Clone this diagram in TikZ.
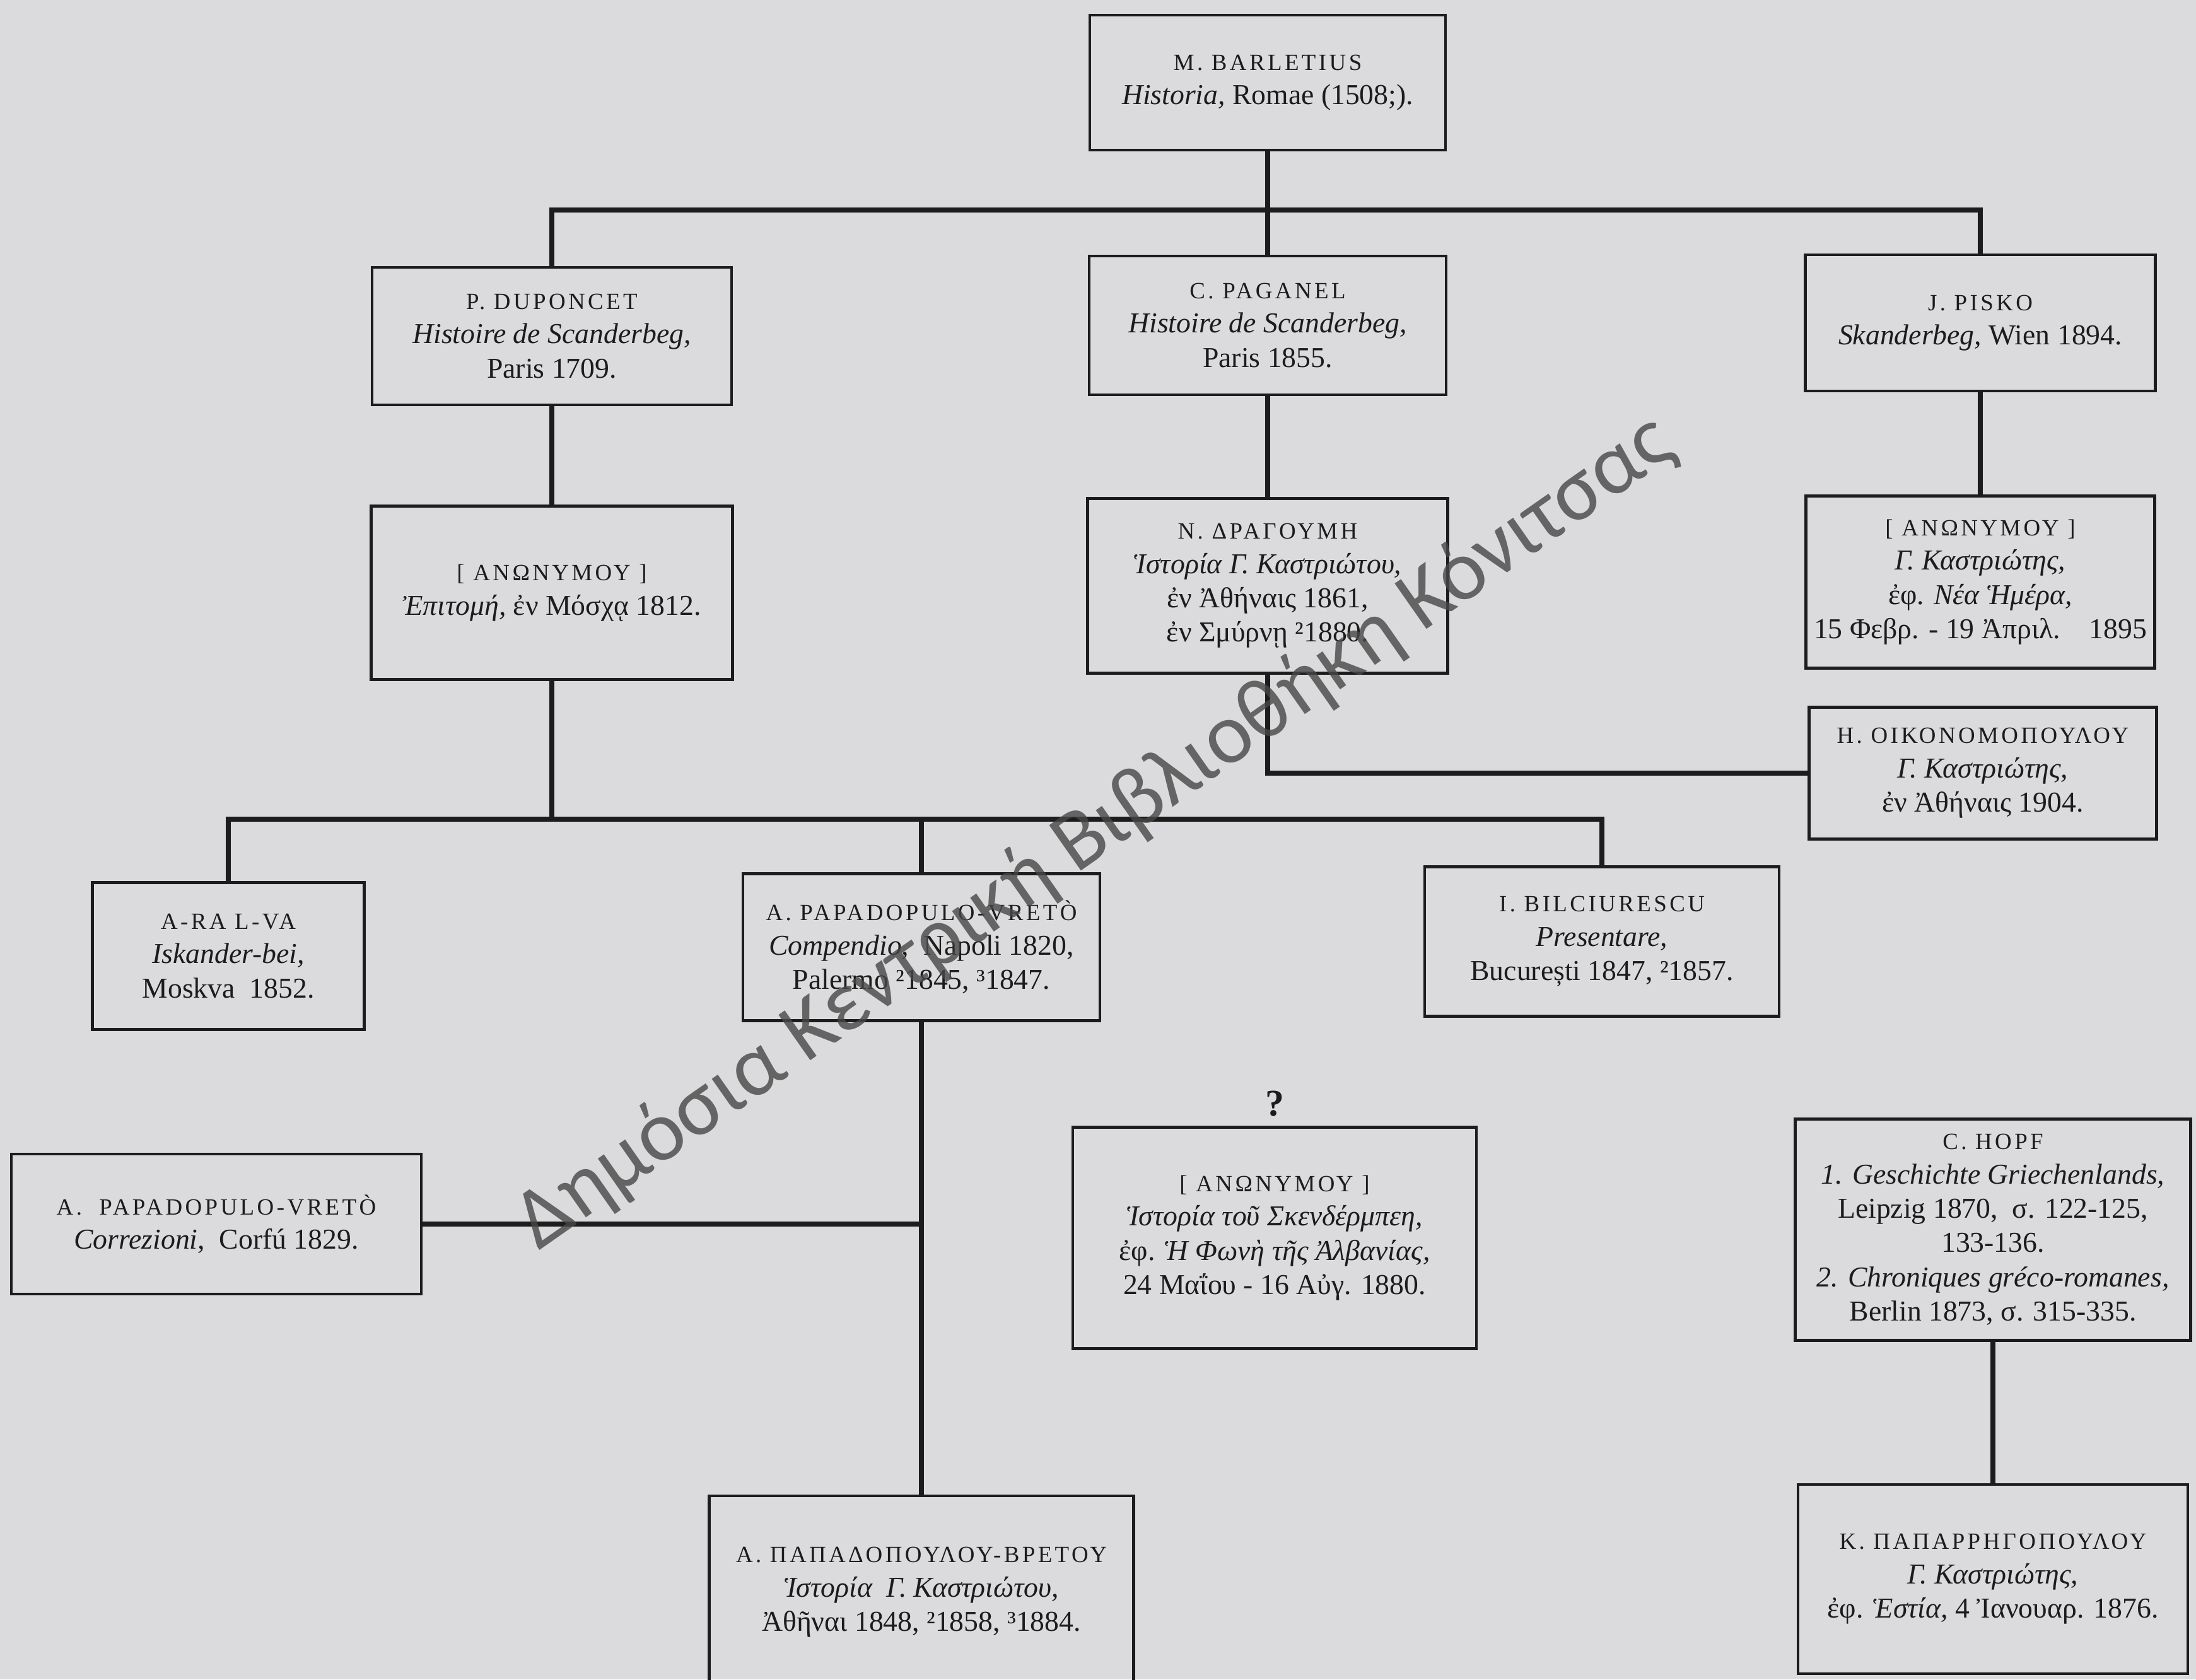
\documentclass[tikz,border=0pt]{standalone}
\usepackage{fontspec}
\setmainfont{Liberation Serif}
\newfontfamily\namefont[LetterSpace=12]{Liberation Serif}
\newfontfamily\stampfont{Carlito}
\usetikzlibrary{positioning}
\definecolor{paper}{RGB}{219,219,221}
\definecolor{ink}{RGB}{28,28,28}
\newcommand{\nm}[1]{{\namefont\fontsize{10.5}{15.5}\selectfont #1}}

\begin{document}
\begin{tikzpicture}

\tikzset{box/.style 2 args={
        draw=ink, line width=1.2pt, rectangle,
        minimum width=#1, minimum height=#2,
        align=center, inner sep=2pt, text=ink,
        font=\fontsize{13}{15.5}\selectfont
    },
    link/.style={draw=ink, line width=2.4pt}
}

\useasboundingbox (0,0) rectangle (34.82,26.63);
\fill[paper] (0,0) rectangle (34.82,26.63);
\clip (0,0) rectangle (34.82,26.63);

% sources
\node[box={5.64cm}{2.14cm}] (barl) at (20.10,25.32) {\nm{M. BARLETIUS}\\ \textit{Historia,} Romae (1508;).};
\node[box={5.70cm}{2.18cm}] (dupo) at (8.75,21.30) {\nm{P. DUPONCET}\\ \textit{Histoire de Scanderbeg,}\\ Paris 1709.};
\node[box={5.66cm}{2.20cm}] (paga) at (20.10,21.47) {\nm{C. PAGANEL}\\ \textit{Histoire de Scanderbeg,}\\ Paris 1855.};
\node[box={5.55cm}{2.16cm}] (pisk) at (31.40,21.51) {\nm{J. PISKO}\\ \textit{Skanderbeg,} Wien 1894.};

\node[box={5.73cm}{2.75cm}] (epit) at (8.75,17.23) {\nm{[ ΑΝΩΝΥΜΟΥ ]}\\ \textit{Ἐπιτομή,} ἐν Μόσχᾳ 1812.};
\node[box={5.71cm}{2.77cm}] (drag) at (20.10,17.34) {\nm{Ν. ΔΡΑΓΟΥΜΗ}\\ \textit{Ἱστορία Γ. Καστριώτου,}\\ ἐν Ἀθήναις 1861,\\ ἐν Σμύρνῃ ²1880.};
\node[box={5.53cm}{2.73cm}] (nhem) at (31.40,17.40) {\nm{[ ΑΝΩΝΥΜΟΥ ]}\\ \textit{Γ. Καστριώτης,}\\ ἐφ. \textit{Νέα Ἡμέρα,}\\ 15 Φεβρ. - 19 Ἀπριλ.\quad 1895};
\node[box={5.51cm}{2.09cm}] (oiko) at (31.44,14.37) {\nm{Η. ΟΙΚΟΝΟΜΟΠΟΥΛΟΥ}\\ \textit{Γ. Καστριώτης,}\\ ἐν Ἀθήναις 1904.};

\node[box={4.31cm}{2.33cm}] (aral) at (3.62,11.47) {\nm{A-RA L-VA}\\ \textit{Iskander-bei,}\\ Moskva\ \ 1852.};
\node[box={5.66cm}{2.33cm}] (comp) at (14.61,11.61) {\nm{A. PAPADOPULO-VRETÒ}\\ \textit{Compendio,}\ \ Napoli 1820,\\ Palermo ²1845, ³1847.};
\node[box={5.62cm}{2.37cm}] (bilc) at (25.40,11.70) {\nm{I. BILCIURESCU}\\ \textit{Presentare,}\\ București 1847, ²1857.};

\node[box={6.50cm}{2.22cm}] (corr) at (3.43,7.22) {\nm{A.\ \ PAPADOPULO-VRETÒ}\\ \textit{Correzioni,}\ \ Corfú 1829.};
\node[text=ink, font=\bfseries\fontsize{17}{17}\selectfont] (quest) at (20.21,9.13) {?};
\node[box={6.40cm}{3.51cm}] (skend) at (20.21,7.00) {\nm{[ ΑΝΩΝΥΜΟΥ ]}\\ \textit{Ἱστορία τοῦ Σκενδέρμπεη,}\\ ἐφ. \textit{Ἡ Φωνὴ τῆς Ἀλβανίας,}\\ 24 Μαΐου - 16 Αὐγ. 1880.};
\node[box={6.27cm}{3.51cm}] (hopf) at (31.60,7.13) {\nm{C. HOPF}\\ \textit{1. Geschichte Griechenlands,}\\ Leipzig 1870,\ \ σ. 122-125,\\ 133-136.\\ \textit{2. Chroniques gréco-romanes,}\\ Berlin 1873, σ. 315-335.};

\node[box={6.73cm}{3.06cm}] (gpap) at (14.61,1.38) {\nm{Α. ΠΑΠΑΔΟΠΟΥΛΟΥ-ΒΡΕΤΟΥ}\\ \textit{Ἱστορία\ \ Γ. Καστριώτου,}\\ Ἀθῆναι 1848, ²1858, ³1884.};
\node[box={6.18cm}{3.00cm}] (papar) at (31.60,1.59) {\nm{Κ. ΠΑΠΑΡΡΗΓΟΠΟΥΛΟΥ}\\ \textit{Γ. Καστριώτης,}\\ ἐφ. \textit{Ἑστία,} 4 Ἰανουαρ. 1876.};

% junctions
\coordinate (j1) at (20.10,23.30);
\coordinate (j2) at (8.75,13.64);

% connectors
\draw[link] (barl.south) -- (j1);
\draw[link] (j1) -| (dupo.north);
\draw[link] (j1) -- (paga.north);
\draw[link] (j1) -| (pisk.north);
\draw[link] (dupo.south) -- (epit.north);
\draw[link] (paga.south) -- (drag.north);
\draw[link] (pisk.south) -- (nhem.north);
\draw[link] (drag.south) |- (oiko.west);
\draw[link] (epit.south) -- (j2);
\draw[link] (j2) -| (aral.north);
\draw[link] (j2) -| (comp.north);
\draw[link] (j2) -| (bilc.north);
\draw[link] (comp.south) -- (gpap.north);
\draw[link] (corr.east) -- (corr.east -| comp.south);
\draw[link] (hopf.south) -- (papar.north);

% library stamp
\node[rotate=35, text=black!72, opacity=0.8, font=\stampfont\fontsize{39}{40}\selectfont] (stamp) at (17.37,13.42) {Δημόσια Κεντρική Βιβλιοθήκη Κόνιτσας};

\end{tikzpicture}
\end{document}
